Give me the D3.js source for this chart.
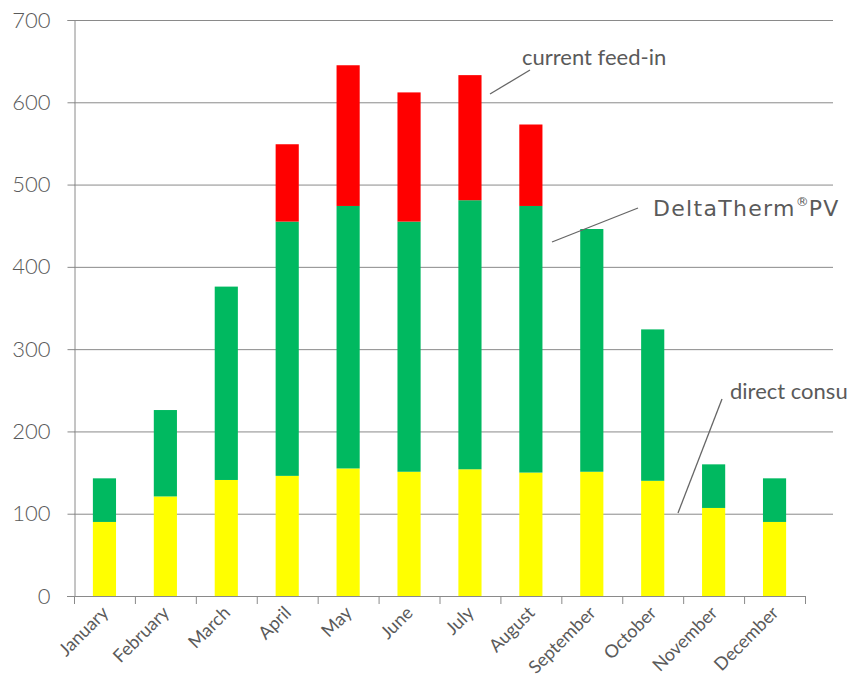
<!DOCTYPE html>
<html>
<head>
<meta charset="utf-8">
<script src="https://cdn.jsdelivr.net/npm/d3@7"></script>
<style>
  html, body { margin: 0; padding: 0; background: #fff; }
  svg { display: block; }
</style>
</head>
<body>
<svg id="chart" width="852" height="680"></svg>
<script>
const months = ["January","February","March","April","May","June","July","August","September","October","November","December"];
const directConsumption = [90, 121, 141, 146, 155, 151, 154, 150, 151, 140, 107, 90];
const deltaThermPV      = [53, 105, 235, 309, 319, 304, 327, 324, 295, 184, 53, 53];
const currentFeedIn     = [0, 0, 0, 94, 171, 157, 152, 99, 0, 0, 0, 0];
const yTicks = [0, 100, 200, 300, 400, 500, 600, 700];
const seriesKeys = ["direct", "delta", "feed"];
const seriesColors = { direct: "#FFFF00", delta: "#00B960", feed: "#FF0000" };

const font = "'Lato', 'Open Sans', sans-serif";
const textColor = "#5a5a5a";
const gridColor = "#8a8a8a";

const svg = d3.select("#chart");
const x0 = 74, xEnd = 805, gridEnd = 833;
const y = d3.scaleLinear().domain([0, 700]).range([596, 20]);
const x = d3.scaleBand().domain(months).range([x0, xEnd]).paddingInner(0.62).paddingOuter(0.31);

const rows = months.map((m, i) => ({ month: m, direct: directConsumption[i], delta: deltaThermPV[i], feed: currentFeedIn[i] }));
const stacked = d3.stack().keys(seriesKeys)(rows);

// gridlines
svg.append("g").selectAll("line").data(yTicks.filter(t => t > 0)).join("line")
  .attr("x1", x0).attr("x2", gridEnd)
  .attr("y1", d => y(d) + 0.5).attr("y2", d => y(d) + 0.5)
  .attr("stroke", gridColor).attr("stroke-width", 1);

// y axis
const yAxis = svg.append("g").attr("transform", `translate(${x0 + 0.5},0)`)
  .call(d3.axisLeft(y).tickValues(yTicks).tickSize(7).tickPadding(17));
yAxis.select(".domain").attr("stroke", gridColor);
yAxis.selectAll(".tick line").attr("stroke", gridColor);
yAxis.selectAll(".tick text").attr("font-family", font).attr("font-size", 22)
  .attr("font-weight", 300).attr("fill", textColor);

// bars
svg.append("g").selectAll("g").data(stacked).join("g")
  .attr("fill", d => seriesColors[d.key])
  .selectAll("rect").data(d => d.filter(s => s[1] > s[0])).join("rect")
  .attr("x", d => x(d.data.month))
  .attr("width", x.bandwidth())
  .attr("y", d => y(d[1]))
  .attr("height", d => y(d[0]) - y(d[1]));

// x axis
const step = (xEnd - x0) / months.length;
const xg = svg.append("g");
xg.append("line").attr("x1", 67).attr("x2", xEnd).attr("y1", 596.5).attr("y2", 596.5)
  .attr("stroke", gridColor);
xg.selectAll("line.tk").data(d3.range(months.length + 1)).join("line").attr("class", "tk")
  .attr("x1", i => x0 + 0.5 + i * step).attr("x2", i => x0 + 0.5 + i * step)
  .attr("y1", 596).attr("y2", 604).attr("stroke", gridColor);
xg.selectAll("text").data(months).join("text")
  .attr("transform", d => `translate(${x(d) + x.bandwidth() / 2 + 5},${614}) rotate(-45)`)
  .attr("text-anchor", "end")
  .attr("font-family", font).attr("font-size", 18).attr("fill", textColor)
  .text(d => d);

// annotations
const ann = svg.append("g");
ann.append("line").attr("x1", 530).attr("y1", 70).attr("x2", 490).attr("y2", 94)
  .attr("stroke", "#666").attr("stroke-width", 1.3);
ann.append("text").attr("x", 522).attr("y", 65).attr("font-family", font).attr("font-size", 22)
  .attr("fill", textColor).text("current feed-in");

ann.append("line").attr("x1", 638).attr("y1", 208).attr("x2", 552).attr("y2", 242)
  .attr("stroke", "#666").attr("stroke-width", 1.3);
const dt = ann.append("text").attr("x", 653).attr("y", 216).attr("font-family", "'DejaVu Sans', sans-serif")
  .attr("font-size", 22).attr("fill", textColor).attr("letter-spacing", 1.3);
dt.append("tspan").text("DeltaTherm");
dt.append("tspan").attr("font-size", 13).attr("dy", -10).attr("letter-spacing", 0).text("®");
dt.append("tspan").attr("dy", 10).text("PV");

ann.append("line").attr("x1", 722).attr("y1", 399).attr("x2", 678).attr("y2", 513)
  .attr("stroke", "#666").attr("stroke-width", 1.3);
ann.append("text").attr("x", 730).attr("y", 399).attr("font-family", font).attr("font-size", 22)
  .attr("fill", textColor).text("direct consu");
</script>
</body>
</html>
